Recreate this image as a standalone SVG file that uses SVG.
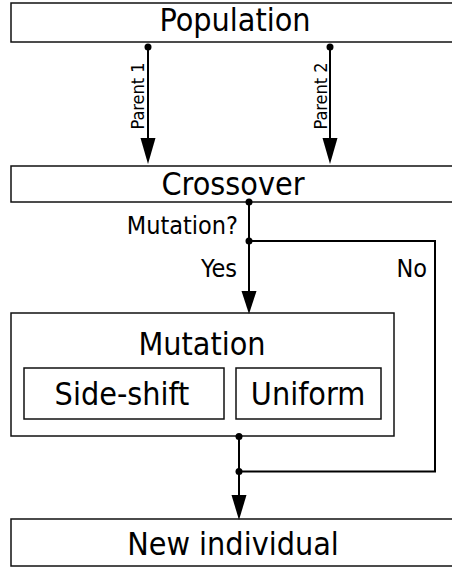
<svg xmlns="http://www.w3.org/2000/svg" width="452" height="569" viewBox="0 0 452 569">
  <style>
    .box { fill: #fff; stroke: #111; stroke-width: 1.5; }
    .lbl { font-family: "DejaVu Sans Condensed", "DejaVu Sans", sans-serif; font-stretch: condensed; fill: #000; }
    .big { font-size: 32px; text-anchor: middle; }
    .mid { font-size: 25px; }
    .small { font-size: 18px; text-anchor: middle; }
    .wire { fill: none; stroke: #000; stroke-width: 2; }
    .dot { fill: #000; }
  </style>
  <defs>
    <marker id="arrow" viewBox="0 0 16 25" refX="16" refY="8" markerWidth="16" markerHeight="25" markerUnits="userSpaceOnUse" orient="auto">
      <path d="M0,0 L25,8 L0,16 Z" fill="#000" transform="translate(0,0)"/>
    </marker>
  </defs>
  <rect width="452" height="569" fill="#fff"/>

  <g id="population">
    <rect class="box" x="11" y="3" width="450" height="39"/>
    <text class="lbl big" x="235" y="31">Population</text>
  </g>

  <g id="crossover">
    <rect class="box" x="11" y="166" width="450" height="36"/>
    <text class="lbl big" x="233" y="195">Crossover</text>
  </g>

  <g id="mutation">
    <rect class="box" x="11" y="313" width="383" height="123"/>
    <text class="lbl big" x="202" y="355">Mutation</text>
    <g id="side-shift">
      <rect class="box" x="24" y="368" width="200" height="51"/>
      <text class="lbl big" x="122" y="405">Side-shift</text>
    </g>
    <g id="uniform">
      <rect class="box" x="236" y="368" width="145" height="51"/>
      <text class="lbl big" x="308" y="405">Uniform</text>
    </g>
  </g>

  <g id="new-individual">
    <rect class="box" x="11" y="519" width="450" height="47"/>
    <text class="lbl big" x="233" y="555">New individual</text>
  </g>

  <g id="connectors">
    <!-- parents from the population into crossover -->
    <path class="wire" d="M148,47 V140"/>
    <polygon class="dot" points="140.5,138 155.5,138 148,164"/>
    <circle class="dot" cx="148" cy="47" r="3.5"/>
    <path class="wire" d="M330,47 V140"/>
    <polygon class="dot" points="322.5,138 337.5,138 330,164"/>
    <circle class="dot" cx="330" cy="47" r="3.5"/>
    <text class="lbl small" transform="translate(144,96) rotate(-90)">Parent 1</text>
    <text class="lbl small" transform="translate(327,96) rotate(-90)">Parent 2</text>

    <!-- crossover to mutation (yes branch) -->
    <path class="wire" d="M249,202 V294"/>
    <polygon class="dot" points="241.5,291 256.5,291 249,314"/>
    <circle class="dot" cx="249" cy="202" r="3.5"/>
    <circle class="dot" cx="249" cy="241" r="3.5"/>

    <!-- bypass (no branch) -->
    <path class="wire" d="M249,241 H435 V471.5 H239"/>

    <!-- mutation to new individual -->
    <path class="wire" d="M239,436 V497"/>
    <polygon class="dot" points="231.5,495 246.5,495 239,520"/>
    <circle class="dot" cx="239" cy="436.5" r="3.5"/>
    <circle class="dot" cx="239" cy="471.5" r="3.5"/>

    <text class="lbl mid" x="238" y="234" text-anchor="end">Mutation?</text>
    <text class="lbl mid" x="237" y="277" text-anchor="end">Yes</text>
    <text class="lbl mid" x="427" y="277" text-anchor="end">No</text>
  </g>
</svg>
